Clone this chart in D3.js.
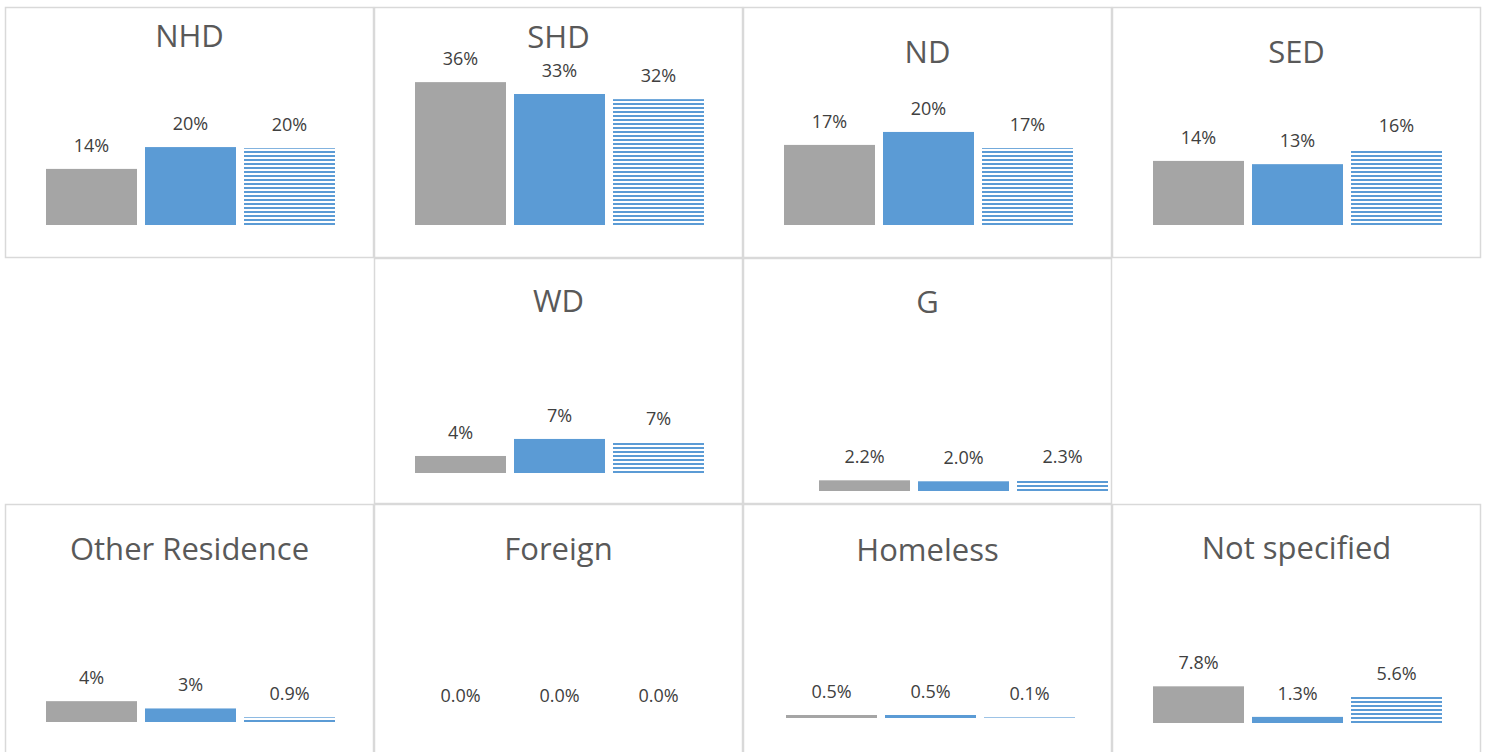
<!DOCTYPE html>
<html>
<head>
<meta charset="utf-8">
<script src="https://cdn.jsdelivr.net/npm/d3@7"></script>
<style>
  body { margin: 0; background: #fff; }
  svg { display: block; }
</style>
</head>
<body>
<script>
// panel names, one small bar chart each
var panels = ["NHD", "SHD", "ND", "SED", "WD", "G", "Other Residence", "Foreign", "Homeless", "Not specified"];
var series = ["grey", "blue", "striped"];

// values in percent
var greyValues    = [14.4, 36.1, 17.3, 13.8, 3.7, 2.2, 4.0, 0.0, 0.5, 7.8];
var blueValues    = [20.0, 33.1, 20.1, 13.1, 7.4, 2.0, 2.6, 0.0, 0.5, 1.3];
var stripedValues = [19.7, 31.8, 16.6, 16.3, 6.7, 2.3, 0.9, 0.0, 0.1, 5.6];

// decimals shown in the data labels (grey, blue, striped)
var labelDecimals = [[0,0,0],[0,0,0],[0,0,0],[0,0,0],[0,0,0],[1,1,1],[0,0,1],[1,1,1],[1,1,1],[1,1,1]];

// each panel has its own value axis (hidden), max of that axis
var axisMax = [38.5, 37.9, 32.4, 32.3, 32.6, 30.9, 28.8, 25, 25, 31.9];

// where each panel sits in the grid and small offsets of its plot area
var layout = [
  {col: 0, row: 0, titleDy: 40, base: 218, dx: 0},
  {col: 1, row: 0, titleDy: 41, base: 218, dx: 0},
  {col: 2, row: 0, titleDy: 56, base: 218, dx: 0},
  {col: 3, row: 0, titleDy: 56, base: 218, dx: 0},
  {col: 1, row: 1, titleDy: 54, base: 215, dx: 0},
  {col: 2, row: 1, titleDy: 55, base: 233, dx: 35},
  {col: 0, row: 2, titleDy: 56, base: 218, dx: 0},
  {col: 1, row: 2, titleDy: 56, base: 215, dx: 0},
  {col: 2, row: 2, titleDy: 57, base: 214, dx: 2},
  {col: 3, row: 2, titleDy: 55, base: 219, dx: 0}
];
var colX = [5, 374, 743, 1112, 1481];
var rowY = [7, 258, 504, 755];

var colors = {grey: "#A5A5A5", blue: "#5B9BD5"};
var plotH = 150;

var svg = d3.select("body").append("svg")
  .attr("width", 1489)
  .attr("height", 752);

var defs = svg.append("defs");

panels.forEach(function(name, i) {
  var L = layout[i];
  var x0 = colX[L.col], x1 = colX[L.col + 1];
  var y0 = rowY[L.row], y1 = rowY[L.row + 1];
  var baseY = y0 + L.base;

  // stripes anchored on this panel's baseline
  var pat = defs.append("pattern")
    .attr("id", "stripes" + i)
    .attr("patternUnits", "userSpaceOnUse")
    .attr("x", 0)
    .attr("y", baseY)
    .attr("width", 8)
    .attr("height", 4);
  pat.append("rect").attr("x", 0).attr("y", 0).attr("width", 8).attr("height", 2).attr("fill", "#fff");
  pat.append("rect").attr("x", 0).attr("y", 2).attr("width", 8).attr("height", 2).attr("fill", colors.blue);

  var g = svg.append("g").attr("class", "panel");

  g.append("rect")
    .attr("x", x0 + 0.5)
    .attr("y", y0 + 0.5)
    .attr("width", x1 - x0 - 1)
    .attr("height", y1 - y0 - 1)
    .attr("fill", "#fff")
    .attr("stroke", "#D9D9D9")
    .attr("stroke-width", 1.5);

  g.append("text")
    .attr("x", (x0 + x1) / 2)
    .attr("y", y0 + L.titleDy)
    .attr("text-anchor", "middle")
    .style("font-family", "Open Sans")
    .style("font-size", "31px")
    .style("fill", "#595959")
    .text(name);

  var x = d3.scaleBand()
    .domain(series)
    .range([x0 + 37 + L.dx, x0 + 37 + 297 + L.dx])
    .paddingInner(0.085)
    .paddingOuter(0.0425)
    .round(true);

  var y = d3.scaleLinear()
    .domain([0, axisMax[i]])
    .range([baseY, baseY - plotH]);

  var rows = [
    {s: "grey", v: greyValues[i], d: labelDecimals[i][0]},
    {s: "blue", v: blueValues[i], d: labelDecimals[i][1]},
    {s: "striped", v: stripedValues[i], d: labelDecimals[i][2]}
  ];

  g.selectAll(".bar")
    .data(rows)
    .enter().append("rect")
    .attr("class", "bar")
    .attr("x", function(d) { return x(d.s); })
    .attr("y", function(d) { return y(d.v); })
    .attr("width", x.bandwidth())
    .attr("height", function(d) { return y(0) - y(d.v); })
    .attr("fill", function(d) { return d.s == "striped" ? "url(#stripes" + i + ")" : colors[d.s]; });

  g.selectAll(".lbl")
    .data(rows)
    .enter().append("text")
    .attr("class", "lbl")
    .attr("x", function(d) { return x(d.s) + x.bandwidth() / 2; })
    .attr("y", function(d) { return y(d.v) - 17; })
    .attr("text-anchor", "middle")
    .style("font-family", "Open Sans")
    .style("font-size", "18px")
    .style("fill", "#404040")
    .text(function(d) { return d3.format("." + d.d + "f")(d.v) + "%"; });
});
</script>
</body>
</html>
